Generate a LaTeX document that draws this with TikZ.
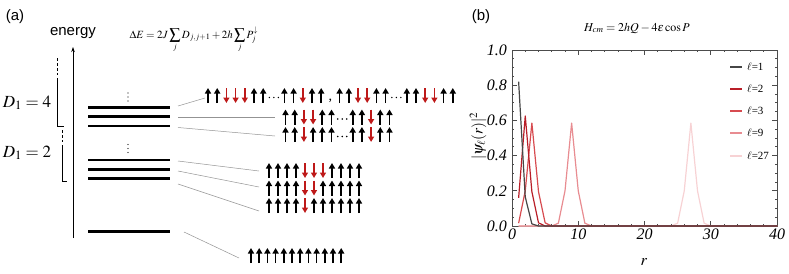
\documentclass[tikz,border=0pt]{standalone}
\usepackage{mathptmx}
\usepackage{fontspec}
\setmainfont{Liberation Serif}
\newfontfamily\labfont{Liberation Sans}
\usepackage{xcolor}
\usepackage{tikz}
\usetikzlibrary{arrows.meta,calc}
\definecolor{spinred}{RGB}{190,25,25}
\definecolor{wfone}{RGB}{70,70,70}
\definecolor{wftwo}{RGB}{185,30,40}
\definecolor{wfthree}{RGB}{215,75,80}
\definecolor{wfnine}{RGB}{232,140,145}
\definecolor{wftwentyseven}{RGB}{247,210,212}
\newcommand{\fsz}[1]{\fontsize{#1}{#1}\selectfont}
% one row of spins: first x, y, spacing, list (u = up, d = down, c = dots)
\newcommand{\spinrow}[4]{%
  \xdef\spx{#1}%
  \foreach \s in {#4}{%
    \if\s u\draw[spinup] (\spx,#2+7.5) -- (\spx,#2-7.5);\fi
    \if\s d\draw[spindn] (\spx,#2-7.5) -- (\spx,#2+7.5);\fi
    \if\s c%
      \foreach \dx in {-3,1.5,6}{\fill (\spx+\dx,#2+2) circle (0.8);}%
      \pgfmathsetmacro\spnext{\spx+12}%
    \else
      \pgfmathsetmacro\spnext{\spx+#3}%
    \fi
    \xdef\spx{\spnext}}}

\begin{document}
\begin{tikzpicture}[x=1pt, y=-1pt,
  level/.style={line width=2.6pt},
  link/.style={gray!85, line width=0.5pt},
  spinup/.style={line width=1.7pt, -{Triangle[length=5.5pt, width=6pt]}},
  spindn/.style={spinup, spinred},
  bracket/.style={line width=1pt},
  frame/.style={black!70, line width=0.7pt},
  ticklab/.style={font=\fsz{16}\itshape, inner sep=1pt},
  wf/.style={line width=1.2pt, line join=round}]
\useasboundingbox (0,0) rectangle (789,273);

% ---------------- (a) energy levels ----------------
\node[font=\labfont\fsz{15}] (lab a) at (15,17) {(a)};
\node[font=\labfont\fsz{15}] (energy) at (73,33) {energy};
\node[anchor=base west, font=\fsz{11}] (dE) at (126,38)
  {$\displaystyle \Delta E = 2J\sum_j D_{j,j+1} + 2h\sum_j P_j^{\downarrow}$};

% energy axis
\coordinate (ebot) at (73,238);
\coordinate (etop) at (73,47);
\draw[line width=0.7pt, -{Stealth[length=5pt, width=3.5pt]}] (ebot) -- (etop);

% brackets for D_1
\draw[bracket, dash pattern=on 2.5pt off 2.5pt] (57,58) -- (57,75);
\draw[bracket] (57,78) -- (57,126) -- (64,126);
\draw[bracket, dash pattern=on 2.5pt off 2.5pt] (62,130) -- (62,142);
\draw[bracket] (62,145) -- (62,181) -- (67,181);
\node[font=\fsz{17}] (D4) at (27,103) {$D_1 = 4$};
\node[font=\fsz{17}] (D2) at (27,153) {$D_1 = 2$};

% levels
\foreach \y in {107.3,116.7,126,160,169.3,178.7,231.7}
  \draw[level] (88,\y) -- (170,\y);
\foreach \y in {97,148.5}
  \foreach \dy in {-4,0,4}
    \fill (128,\y+\dy) circle (0.7);

% links from levels to configurations
\foreach \i/\a/\b/\c/\d in {1/178/106/205/98, 2/178/117/275/117, 3/178/127.5/275/136,
    4/178/161/259/171, 5/178/171/259/187, 6/178/184/259/211, 7/184/232/239/258} {
  \coordinate (s\i) at (\a,\b);
  \coordinate (t\i) at (\c,\d);
  \draw[link] (s\i) -- (t\i);
}

% spin configurations
\spinrow{208}{95.5}{9.2}{u,u,d,d,d,u,u,c,u,u,d,u,u}
\node[anchor=base, font=\fsz{14}, inner sep=0pt] (comma) at (330.4,100) {,};
\spinrow{339.6}{95.5}{9.2}{u,u,d,d,u,u,c,u,u,d,d,u,u}
\spinrow{285.5}{117}{9.2}{u,u,d,d,u,u,c,u,u,d,u,u}
\spinrow{285.5}{134.5}{9.2}{u,u,d,u,u,u,c,u,u,d,u,u}
\spinrow{269}{170.5}{9}{u,u,u,u,d,d,d,u,u,u,u}
\spinrow{269}{188}{9}{u,u,u,u,d,d,u,u,u,u,u}
\spinrow{269}{205.5}{9}{u,u,u,u,d,u,u,u,u,u,u}
\spinrow{251}{255.5}{8.2}{u,u,u,u,u,u,u,u,u,u,u,u}

% ---------------- (b) wave functions ----------------
\node[font=\labfont\fsz{15}] (lab b) at (481,17) {(b)};
\node[font=\fsz{12}] (Hcm) at (637,28) {$H_{cm} = 2hQ - 4\epsilon\cos P$};

\begin{scope}[shift={(512,226)}, x=6.625pt, y=176pt]
  \draw[frame] (0,0) rectangle (40,1);
  % ticks
  \foreach \t in {0,2,...,40} {
    \draw[frame] (\t,0) -- ++(0,0.013);
    \draw[frame] (\t,1) -- ++(0,-0.013);
  }
  \foreach \t in {0,10,...,40} {
    \draw[frame] (\t,0) -- ++(0,0.026);
    \draw[frame] (\t,1) -- ++(0,-0.026);
    \node[ticklab, anchor=north] (xt\t) at (\t,-0.01) {\t};
  }
  \foreach \k in {0,...,20} {
    \draw[frame] (0,\k/20) -- ++(0.35,0);
    \draw[frame] (40,\k/20) -- ++(-0.35,0);
  }
  \foreach \t [count=\i] in {0.0,0.2,0.4,0.6,0.8,1.0} {
    \draw[frame] (0,\t) -- ++(0.7,0);
    \draw[frame] (40,\t) -- ++(-0.7,0);
    \node[ticklab, anchor=east] (yt\i) at (-0.6,\t) {\t};
  }
  % curves
  \draw[wf, wftwentyseven] plot coordinates {(1,0) (24,0) (25,0.016) (26,0.2) (27,0.585)
    (28,0.2) (29,0.016) (30,0) (40,0)};
  \draw[wf, wfnine] plot coordinates {(1,0) (6,0) (7,0.016) (8,0.2) (9,0.585)
    (10,0.2) (11,0.016) (12,0) (40,0)};
  \draw[wf, wfthree] plot coordinates {(1,0.016) (2,0.2) (3,0.585) (4,0.195)
    (5,0.018) (6,0) (40,0)};
  \draw[wf, wftwo] plot coordinates {(1,0.16) (2,0.625) (3,0.195) (4,0.018)
    (5,0) (40,0)};
  \draw[wf, wfone] plot coordinates {(1,0.82) (2,0.165) (3,0.012) (4,0) (40,0)};
\end{scope}

\node[font=\fsz{16}] (xlab) at (644,262) {$r$};
\node[font=\fsz{15}, rotate=90] (ylab) at (478,136) {$|\psi_\ell(r)|^2$};

% legend
\foreach \n/\c/\y in {1/wfone/67, 2/wftwo/89, 3/wfthree/111, 9/wfnine/133, 27/wftwentyseven/156} {
  \draw[wf, \c] (730,\y) -- (742,\y);
  \node[anchor=west, font=\fsz{11}, inner sep=1pt] (leg\n) at (746,\y) {$\ell$=\n};
}
\end{tikzpicture}
\end{document}
